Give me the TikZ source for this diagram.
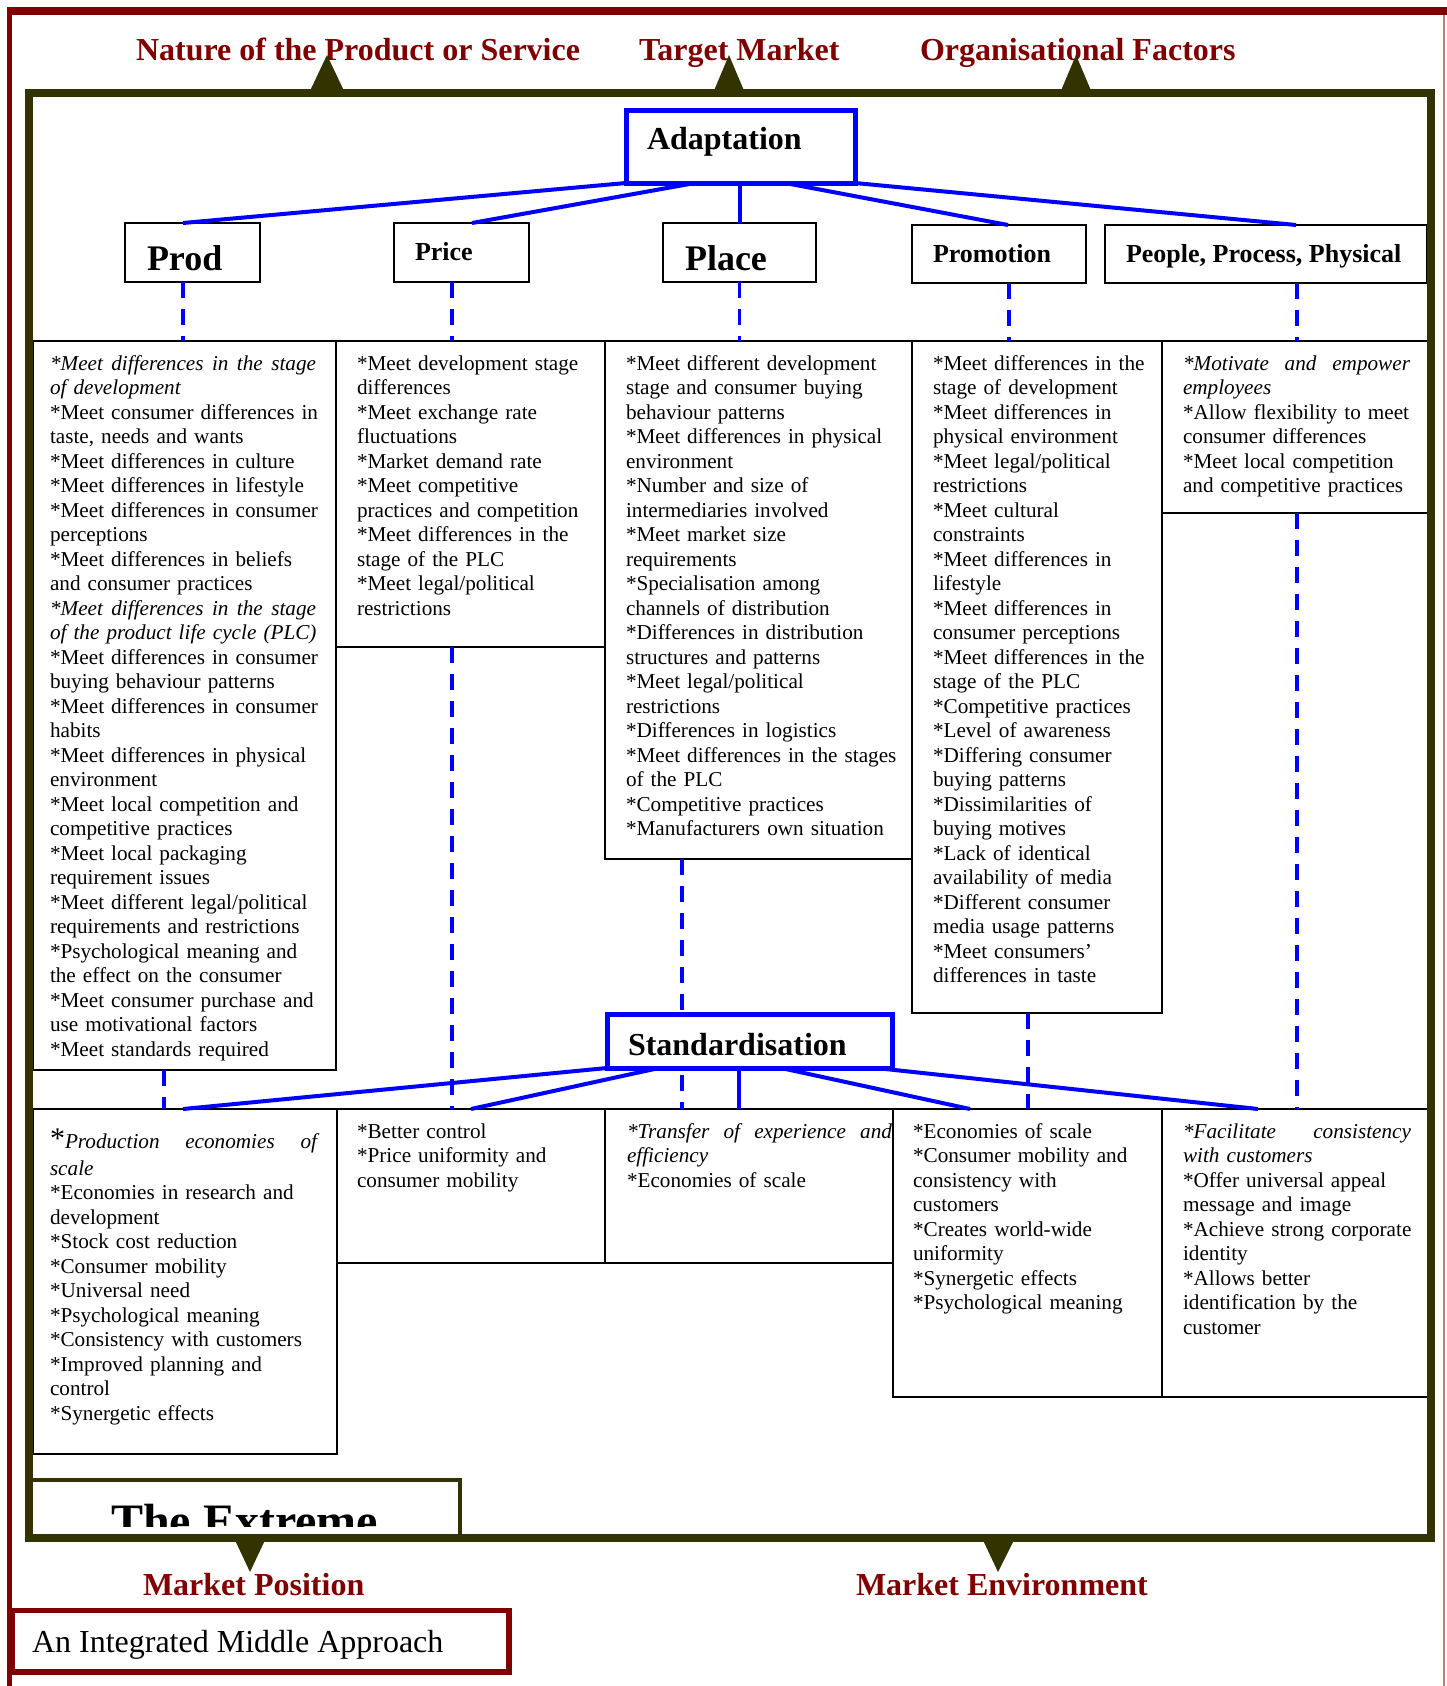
\documentclass[tikz,border=0pt]{standalone}
\usepackage{fontspec}
\setmainfont{Liberation Serif}
\definecolor{maroonc}{HTML}{800000}
\definecolor{olivec}{HTML}{333300}
\definecolor{bluec}{HTML}{0000FF}
\newcommand{\jl}[2]{\leavevmode\hbox to #1pt{#2}}
\newcommand{\sx}{*}
\begin{document}
\begin{tikzpicture}[x=1pt,y=-1pt,
  every node/.style={outer sep=0pt},
  ctext/.style={font=\fontsize{21.2}{24.5}\selectfont, anchor=base west, inner sep=0pt, align=left, text width=295pt},
  cellbox/.style={draw=black, line width=1.6pt, inner sep=0pt, anchor=north west},
  hdrbox/.style={draw=black, line width=1.8pt, fill=white, inner sep=0pt, anchor=north west},
  bigbox/.style={draw=bluec, line width=5pt, fill=white, inner sep=0pt, anchor=north west},
  blink/.style={draw=bluec, line width=4pt},
  bdash/.style={draw=bluec, line width=3.5pt, dash pattern=on 16pt off 11pt},
  mtitle/.style={font=\bfseries\fontsize{32}{36}\selectfont, text=maroonc, anchor=base west, inner sep=0pt},
  hlabel/.style={font=\bfseries\fontsize{26}{30}\selectfont, anchor=base west, inner sep=0pt},
  hlabelbig/.style={font=\bfseries\fontsize{36}{40}\selectfont, anchor=base west, inner sep=0pt},
  stlabel/.style={font=\bfseries\fontsize{32}{36}\selectfont, anchor=base west, inner sep=0pt},
]
\useasboundingbox (0,0) rectangle (1447,1686);
\fill[white] (0,0) rectangle (1447,1686);

% maroon outer frame
\draw[maroonc, line width=5pt] (9.5,7) -- (9.5,1686);
\draw[maroonc, line width=8pt] (7,11) -- (1447,11);
\draw[maroonc!50, line width=1.5pt] (1444,15) -- (1444,1686);

% content cells (top row)
\node[cellbox, minimum width=303pt, minimum height=729pt] (c1) at (33,341) {};
\node[cellbox, minimum width=269pt, minimum height=306pt] (c2) at (336,341) {};
\node[cellbox, minimum width=307pt, minimum height=518pt] (c3) at (605,341) {};
\node[cellbox, minimum width=250pt, minimum height=672pt] (c4) at (912,341) {};
\node[cellbox, minimum width=266pt, minimum height=172pt] (c5) at (1162,341) {};
% content cells (bottom row)
\node[cellbox, minimum width=304pt, minimum height=345pt] (b1) at (33,1109) {};
\node[cellbox, minimum width=268pt, minimum height=154pt] (b2) at (337,1109) {};
\node[cellbox, minimum width=288pt, minimum height=154pt] (b3) at (605,1109) {};
\node[cellbox, minimum width=269pt, minimum height=288pt] (b4) at (893,1109) {};
\node[cellbox, minimum width=266pt, minimum height=288pt] (b5) at (1162,1109) {};

% texts top row
\node[ctext] (t1) at (50,370) {\jl{266}{\itshape *Meet\hfill differences\hfill in\hfill the\hfill stage}\\
{\itshape of development}\\
\sx Meet consumer differences in\\
taste, needs and wants\\
\sx Meet differences in culture\\
\sx Meet differences in lifestyle\\
\sx Meet differences in consumer\\
perceptions\\
\sx Meet differences in beliefs\\
and consumer practices\\
\jl{266}{\itshape *Meet\hfill differences\hfill in\hfill the\hfill stage}\\
{\itshape of the product life cycle (PLC)}\\
\sx Meet differences in consumer\\
buying behaviour patterns\\
\sx Meet differences in consumer\\
habits\\
\sx Meet differences in physical\\
environment\\
\sx Meet local competition and\\
competitive practices\\
\sx Meet local packaging\\
requirement issues\\
\sx Meet different legal/political\\
requirements and restrictions\\
\sx Psychological meaning and\\
the effect on the consumer\\
\sx Meet consumer purchase and\\
use motivational factors\\
\sx Meet standards required};

\node[ctext] (t2) at (357,370) {\sx Meet development stage\\
differences\\
\sx Meet exchange rate\\
fluctuations\\
\sx Market demand rate\\
\sx Meet competitive\\
practices and competition\\
\sx Meet differences in the\\
stage of the PLC\\
\sx Meet legal/political\\
restrictions};

\node[ctext] (t3) at (626,370) {\sx Meet different development\\
stage and consumer buying\\
behaviour patterns\\
\sx Meet differences in physical\\
environment\\
\sx Number and size of\\
intermediaries involved\\
\sx Meet market size\\
requirements\\
\sx Specialisation among\\
channels of distribution\\
\sx Differences in distribution\\
structures and patterns\\
\sx Meet legal/political\\
restrictions\\
\sx Differences in logistics\\
\sx Meet differences in the stages\\
of the PLC\\
\sx Competitive practices\\
\sx Manufacturers own situation};

\node[ctext] (t4) at (933,370) {\sx Meet differences in the\\
stage of development\\
\sx Meet differences in\\
physical environment\\
\sx Meet legal/political\\
restrictions\\
\sx Meet cultural\\
constraints\\
\sx Meet differences in\\
lifestyle\\
\sx Meet differences in\\
consumer perceptions\\
\sx Meet differences in the\\
stage of the PLC\\
\sx Competitive practices\\
\sx Level of awareness\\
\sx Differing consumer\\
buying patterns\\
\sx Dissimilarities of\\
buying motives\\
\sx Lack of identical\\
availability of media\\
\sx Different consumer\\
media usage patterns\\
\sx Meet consumers’\\
differences in taste};

\node[ctext] (t5) at (1183,370) {\jl{227}{\itshape *Motivate\hfill and\hfill empower}\\
{\itshape employees}\\
\sx Allow flexibility to meet\\
consumer differences\\
\sx Meet local competition\\
and competitive practices};

% texts bottom row
\node[ctext] (u1) at (50,1148) {\jl{267}{{\fontsize{30}{30}\selectfont *}\itshape Production\hfill economies\hfill of}\\[2.5pt]
{\itshape scale}\\
\sx Economies in research and\\
development\\
\sx Stock cost reduction\\
\sx Consumer mobility\\
\sx Universal need\\
\sx Psychological meaning\\
\sx Consistency with customers\\
\sx Improved planning and\\
control\\
\sx Synergetic effects};

\node[ctext] (u2) at (357,1138) {\sx Better control\\
\sx Price uniformity and\\
consumer mobility};

\node[ctext] (u3) at (627,1138) {\jl{265}{\itshape *Transfer\hfill of\hfill experience\hfill and}\\
{\itshape efficiency}\\
\sx Economies of scale};

\node[ctext] (u4) at (913,1138) {\sx Economies of scale\\
\sx Consumer mobility and\\
consistency with\\
customers\\
\sx Creates world-wide\\
uniformity\\
\sx Synergetic effects\\
\sx Psychological meaning};

\node[ctext] (u5) at (1183,1138) {\jl{228}{\itshape *Facilitate\hfill consistency}\\
{\itshape with customers}\\
\sx Offer universal appeal\\
message and image\\
\sx Achieve strong corporate\\
identity\\
\sx Allows better\\
identification by the\\
customer};

% header boxes
\node[hdrbox, minimum width=135pt, minimum height=59pt] (prod) at (125,223) {};
\node[hdrbox, minimum width=135pt, minimum height=59pt] (price) at (394,223) {};
\node[hdrbox, minimum width=153pt, minimum height=59pt] (place) at (663,223) {};
\node[hdrbox, minimum width=174pt, minimum height=58pt] (promo) at (912,225) {};
\node[hdrbox, minimum width=322pt, minimum height=58pt] (people) at (1105,225) {};
\node[hlabelbig] (prodt) at (147,270) {Prod};
\node[hlabel] (pricet) at (415,260) {Price};
\node[hlabelbig] (placet) at (685,270) {Place};
\node[hlabel] (promot) at (933,262) {Promotion};
\node[hlabel] (peoplet) at (1126,262) {People, Process, Physical};

% adaptation box
\node[bigbox, minimum width=229pt, minimum height=73pt] (adapt) at (626,110) {};
\node[stlabel] (adaptt) at (647,149) {Adaptation};

% connectors from adaptation
\draw[blink] (adapt.south west) -- ([xshift=-9.5pt]prod.north);
\draw[blink] ([xshift=69pt]adapt.south west) -- ([xshift=10.5pt]price.north);
\draw[blink] (place.north |- adapt.south) -- (place.north);
\draw[blink] ([xshift=-70pt]adapt.south east) -- ([xshift=9pt]promo.north);
\draw[blink] (adapt.south east) -- ([xshift=30pt]people.north);

% dashed from header boxes
\draw[bdash] ([xshift=-9.5pt]prod.south) -- ([xshift=-9.5pt]prod.south |- c1.north);
\draw[bdash] ([xshift=-9.5pt]price.south) -- ([xshift=-9.5pt]price.south |- c2.north);
\draw[bdash] (place.south) -- (place.south |- c3.north);
\draw[bdash] ([xshift=10pt]promo.south) -- ([xshift=10pt]promo.south |- c4.north);
\draw[bdash] ([xshift=31pt]people.south) -- ([xshift=31pt]people.south |- c5.north);

% dashed lower
\draw[bdash] ([xshift=-20.5pt]c1.south) -- ([xshift=-20.5pt]c1.south |- b1.north);
\draw[bdash] ([xshift=-18.5pt]c2.south) -- ([xshift=-18.5pt]c2.south |- b2.north);
\draw[bdash] ([xshift=-76.5pt]c3.south) -- ([xshift=-76.5pt]c3.south |- b3.north);
\draw[bdash] ([xshift=-9pt]c4.south) -- ([xshift=-9pt]c4.south |- b4.north);
\draw[bdash] ([xshift=2pt]c5.south) -- ([xshift=2pt]c5.south |- b5.north);

% standardisation box
\node[bigbox, minimum width=285pt, minimum height=54pt] (std) at (607,1014) {};
\node[stlabel] (stdt) at (628,1055) {Standardisation};
\draw[blink] (std.south west) -- ([xshift=-2pt]b1.north);
\draw[blink] ([xshift=52pt]std.south west) -- (b2.north);
\draw[blink] ([xshift=-10.5pt]std.south) -- ([xshift=-10.5pt]std.south |- b3.north);
\draw[blink] ([xshift=31.5pt]std.south) -- ([xshift=-57.5pt]b4.north);
\draw[blink] ([xshift=-16pt]std.south east) -- ([xshift=-37pt]b5.north);

% olive frame
\draw[olivec, line width=8pt] (29,93) rectangle (1431,1538);

% titles
\node[mtitle] (n1) at (136,60) {Nature of the Product or Service};
\node[mtitle] (n2) at (639,60) {Target Market};
\node[mtitle] (n3) at (920,60) {Organisational Factors};
\node[mtitle] (n4) at (143,1595) {Market Position};
\node[mtitle] (n5) at (856,1595) {Market Environment};

% triangles
\fill[olivec] (309,93) -- (327,55) -- (345,93) -- cycle;
\fill[olivec] (713,93) -- (729,55) -- (745,93) -- cycle;
\fill[olivec] (1060,93) -- (1076,55) -- (1092,93) -- cycle;
\fill[olivec] (234,1538) -- (250,1572) -- (266,1538) -- cycle;
\fill[olivec] (982,1538) -- (998,1572) -- (1015,1538) -- cycle;

% the extreme
\draw[olivec, line width=4pt] (30,1538) -- (30,1480) -- (460,1480) -- (460,1538);
\begin{scope}
\clip (33,1483) rectangle (457,1526);
\node[font=\bfseries\fontsize{48}{52}\selectfont, anchor=base west, inner sep=0pt] (ext) at (111,1537) {The Extreme};
\end{scope}

% integrated middle approach
\node[draw=maroonc, line width=5.5pt, fill=white, inner sep=0pt, minimum width=497pt, minimum height=61.5pt, anchor=north west] (integ) at (12,1610.5) {};
\node[font=\fontsize{32}{36}\selectfont, anchor=base west, inner sep=0pt] (integt) at (32,1652) {An Integrated Middle Approach};
\end{tikzpicture}
\end{document}
